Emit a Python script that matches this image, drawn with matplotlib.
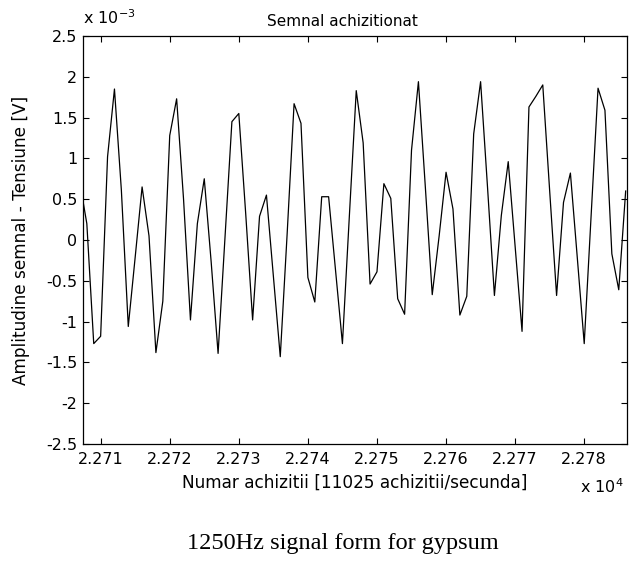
import numpy as np
import matplotlib
matplotlib.use("Agg")
import matplotlib.pyplot as plt
from matplotlib.ticker import FuncFormatter

plt.rcParams['font.family'] = ['DejaVu Sans']

# esantioane (index) si amplitudine, in mV (x 10^-3 V)
sample_start = 22707
amplitude_mv = [
    0.70, 0.20, -1.27, -1.18, 1.02, 1.85, 0.61, -1.06, -0.21, 0.65,
    0.05, -1.38, -0.75, 1.28, 1.73, 0.50, -0.98, 0.20, 0.75, -0.27,
    -1.39, 0.03, 1.45, 1.55, 0.32, -0.98, 0.29, 0.55, -0.44, -1.43,
    0.08, 1.67, 1.43, -0.46, -0.76, 0.53, 0.53, -0.37, -1.27, 0.29,
    1.83, 1.19, -0.54, -0.39, 0.69, 0.51, -0.72, -0.91, 1.10, 1.94,
    0.65, -0.67, 0.05, 0.83, 0.38, -0.92, -0.69, 1.30, 1.94, 0.65,
    -0.68, 0.30, 0.96, -0.08, -1.12, 1.63, 1.76, 1.90, 0.60, -0.68,
    0.46, 0.82, -0.22, -1.27, 0.30, 1.86, 1.59, -0.17, -0.61, 0.60,
]
samples = np.arange(sample_start, sample_start + len(amplitude_mv))

x_ticks = [22710, 22720, 22730, 22740, 22750, 22760, 22770, 22780]
y_ticks = [-2.5, -2, -1.5, -1, -0.5, 0, 0.5, 1, 1.5, 2, 2.5]

fig = plt.figure(figsize=(6.29, 5.63), dpi=100)
ax = fig.add_axes([0.132, 0.2114, 0.8649, 0.7247])

ax.plot(samples, amplitude_mv, color='black', lw=0.9)

ax.set_xlim(22707.45, 22786.2)
ax.set_ylim(-2.5, 2.5)
ax.set_xticks(x_ticks)
ax.set_yticks(y_ticks)
ax.xaxis.set_major_formatter(FuncFormatter(lambda v, p: '%g' % (v / 1e4)))
ax.yaxis.set_major_formatter(FuncFormatter(lambda v, p: '%g' % v))
ax.tick_params(direction='in', length=4, width=0.8, top=True, right=True,
               labelsize=11.5, pad=4)
ax.tick_params(axis='x', pad=6)
for s in ax.spines.values():
    s.set_linewidth(0.9)

ax.set_title('Semnal achizitionat', fontsize=11, x=0.476, pad=7)
ax.set_xlabel('Numar achizitii [11025 achizitii/secunda]', fontsize=12.2)
ax.xaxis.set_label_coords(0.5, -0.072)
ax.set_ylabel('Amplitudine semnal - Tensiune [V]', fontsize=12.2)
ax.yaxis.set_label_coords(-0.098, 0.5)

fig.text(0.132, 0.952, r'x 10$^{-3}$', fontsize=11.5, ha='left', va='bottom')
fig.text(0.922, 0.135, r'x 10$^{4}$', fontsize=11.5, ha='left', va='center')

fig.text(0.545, 0.016, '1250Hz signal form for gypsum', fontsize=17.5,
         family='Liberation Serif', ha='center', va='bottom')

fig.savefig('out.png', dpi=100)
